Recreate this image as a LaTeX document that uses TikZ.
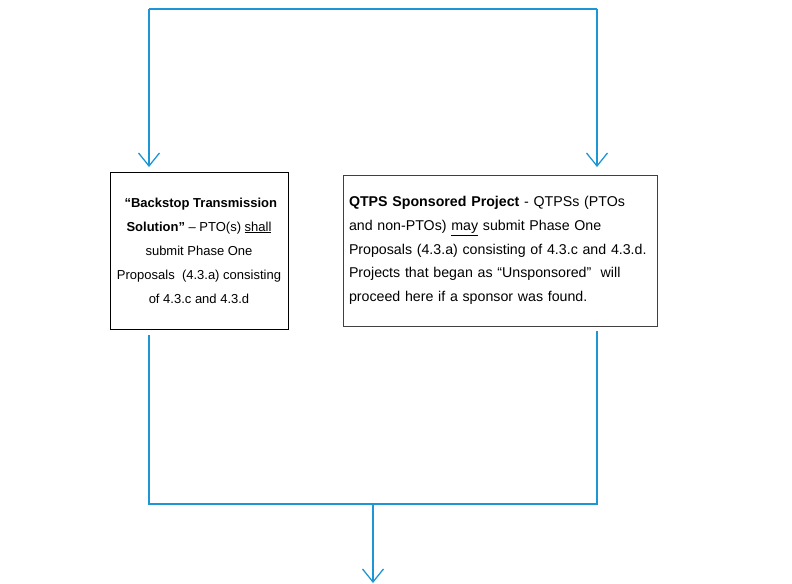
\documentclass[tikz,border=0pt]{standalone}
\usepackage{fontspec}
\setmainfont{Liberation Sans}
\usetikzlibrary{arrows.meta}
\definecolor{flowblue}{RGB}{30,150,214}
\tikzset{
	flow/.style={draw=flowblue,line width=1.3pt,-{Straight Barb[length=13bp,width=21bp,line width=1.3pt]}},
	flowline/.style={draw=flowblue,line width=1.3pt},
	stepbox/.style={draw,line width=0.8pt,inner sep=6bp,font=\fontsize{14.2bp}{23.8bp}\selectfont}
}
\begin{document}
\begin{tikzpicture}[x=1bp,y=-1bp]
			\useasboundingbox (0,0) rectangle (792,584);
			%The two boxes
			\node [stepbox,inner sep=0bp,font=\fontsize{13bp}{24bp}\selectfont,minimum width=178bp,minimum height=157bp,align=center] (backstop) at (199,250.5) {\textbf{\ ``Backstop Transmission}\\\textbf{Solution''} -- PTO(s) \underline{shall}\\submit Phase One\\Proposals\ \ (4.3.a) consisting\\of 4.3.c and 4.3.d};
			\node [stepbox,draw=black!75,minimum width=312bp,minimum height=151bp,text width=302bp,align=left] (sponsored) at (500,250.5) {\textbf{QTPS Sponsored Project} - QTPSs (PTOs\\and non-PTOs) \underline{may} submit Phase One\\Proposals (4.3.a) consisting of 4.3.c and 4.3.d.\\Projects that began as ``Unsponsored''\ \ will\\proceed here if a sponsor was found.};
			%Split at the top
			\coordinate (topL) at (149,9);
			\coordinate (topR) at (597,9);
			\coordinate (inL) at (149,167);
			\coordinate (inR) at (597,167);
			\draw [flowline] (topL) -- (topR);
			\draw [flow] (topL) -- (inL);
			\draw [flow] (topR) -- (inR);
			%Join at the bottom
			\coordinate (outL) at (149,335);
			\coordinate (outR) at (597,331);
			\coordinate (joinL) at (149,504);
			\coordinate (joinR) at (597,504);
			\coordinate (joinM) at (373,504);
			\coordinate (exit) at (373,583);
			\draw [flowline] (outL) -- (joinL) -- (joinR) -- (outR);
			\draw [flow] (joinM) -- (exit);
\end{tikzpicture}
\end{document}
